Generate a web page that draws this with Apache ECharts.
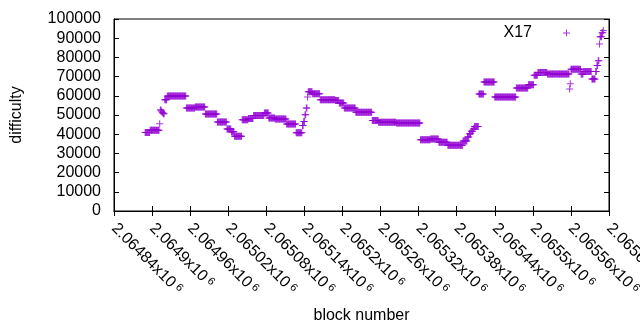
<!DOCTYPE html>
<html>
<head>
<meta charset="utf-8">
<script src="https://cdn.jsdelivr.net/npm/echarts@6/dist/echarts.min.js"></script>
<style>
html, body { margin: 0; padding: 0; background: #fff; }
#main { width: 640px; height: 330px; }
</style>
</head>
<body>
<div id="main"></div>
<script>
// difficulty is constant over runs of blocks: first block of each run and its value
var runStart = [
    2064889, 2064897, 2064912, 2064913, 2064915, 2064916, 2064918, 2064920, 2064924, 2064954,
    2064968, 2064984, 2065003, 2065018, 2065025, 2065030, 2065042, 2065052, 2065060, 2065077,
    2065084, 2065094, 2065112, 2065127, 2065137, 2065139, 2065141, 2065143, 2065145, 2065146,
    2065153, 2065165, 2065189, 2065195, 2065203, 2065221, 2065247, 2065257, 2065285, 2065323,
    2065339, 2065352, 2065366, 2065390, 2065397, 2065400, 2065403, 2065406, 2065408, 2065415,
    2065423, 2065440, 2065474, 2065493, 2065502, 2065508, 2065523, 2065558, 2065559, 2065560,
    2065576, 2065580, 2065593, 2065599, 2065601, 2065603, 2065605, 2065606, 2065609, 2065611
];
var runValue = [
    40900, 42100, 45400, 52600, 51900, 51200, 50600, 58000, 59900, 53600,
    54200, 50500, 46300, 42700, 41300, 38900, 47500, 48200, 49800, 51000,
    48400, 47900, 45300, 40700, 44500, 46600, 50100, 53600, 59400, 62100,
    61100, 58000, 57600, 56200, 53600, 51400, 47100, 46200, 45800, 37100,
    37500, 35800, 34300, 36400, 38600, 40200, 41500, 42700, 44000, 61000,
    67200, 59400, 64000, 65800, 70700, 72200, 71400, 63500, 66300, 73800,
    71300, 72600, 68700, 72700, 75800, 78300, 87000, 90700, 92800, 94000
];
var lastBlock = 2065611;

var points = [];
for (var i = 0; i < runStart.length; i++) {
    var end = i + 1 < runStart.length ? runStart[i + 1] - 1 : lastBlock;
    for (var b = runStart[i]; b <= end; b++) {
        points.push([b, runValue[i]]);
    }
}

var plus = 'path://M3,0H4V3H7V4H4V7H3V4H0V3H3Z';
var font = 'Liberation Sans';
var black = '#000';
var fs = 16;

var option = {
    animation: false,
    grid: {
        left: 114,
        right: 31,
        top: 19,
        bottom: 119,
        outerBoundsMode: 'none',
        containLabel: false,
        show: true,
        borderColor: black,
        borderWidth: 1
    },
    legend: {
        data: [{ name: 'X17', icon: plus }],
        top: 20,
        right: 65,
        align: 'right',
        itemWidth: 59,
        itemHeight: 7,
        symbolKeepAspect: true,
        itemStyle: { color: '#9400d3' },
        textStyle: { fontFamily: font, fontSize: fs, color: black },
        selectedMode: false
    },
    xAxis: [{
        type: 'value',
        min: 2064840,
        max: 2065620,
        interval: 60,
        position: 'bottom',
        axisLine: { show: true, lineStyle: { color: black } },
        axisTick: { inside: true, length: 5, lineStyle: { color: black } },
        splitLine: { show: false },
        axisLabel: {
            rotate: -45,
            margin: 15,
            showMaxLabel: true,
            hideOverlap: false,
            formatter: function (v) {
                return '{a|' + parseFloat((v / 1e6).toPrecision(6)) + 'x10}{b| 6}';
            },
            rich: {
                a: { fontFamily: font, fontSize: fs, color: black },
                b: { fontFamily: font, fontSize: 11, color: black, verticalAlign: 'top' }
            }
        },
        name: 'block number',
        nameLocation: 'middle',
        nameGap: 97,
        nameTextStyle: { fontFamily: font, fontSize: fs, color: black }
    }, {
        type: 'value',
        min: 2064840,
        max: 2065620,
        interval: 60,
        position: 'top',
        axisLine: { show: true, lineStyle: { color: black } },
        axisTick: { inside: true, length: 5, lineStyle: { color: black } },
        splitLine: { show: false },
        axisLabel: { show: false }
    }],
    yAxis: [{
        type: 'value',
        min: 0,
        max: 100000,
        interval: 10000,
        position: 'left',
        axisLine: { show: true, lineStyle: { color: black } },
        axisTick: { inside: true, length: 5, lineStyle: { color: black } },
        splitLine: { show: false },
        axisLabel: {
            margin: 13, fontFamily: font, fontSize: fs, color: black,
            formatter: function (v) { return String(v); }
        },
        name: 'difficulty',
        nameLocation: 'middle',
        nameGap: 89,
        nameTextStyle: { fontFamily: font, fontSize: fs, color: black }
    }, {
        type: 'value',
        min: 0,
        max: 100000,
        interval: 10000,
        position: 'right',
        axisLine: { show: true, lineStyle: { color: black } },
        axisTick: { inside: true, length: 5, lineStyle: { color: black } },
        splitLine: { show: false },
        axisLabel: { show: false }
    }],
    series: [{
        name: 'X17',
        type: 'scatter',
        symbol: plus,
        symbolSize: 7,
        silent: true,
        itemStyle: { color: '#9400d3' },
        data: points
    }]
};

echarts.init(document.getElementById('main')).setOption(option);
</script>
</body>
</html>
